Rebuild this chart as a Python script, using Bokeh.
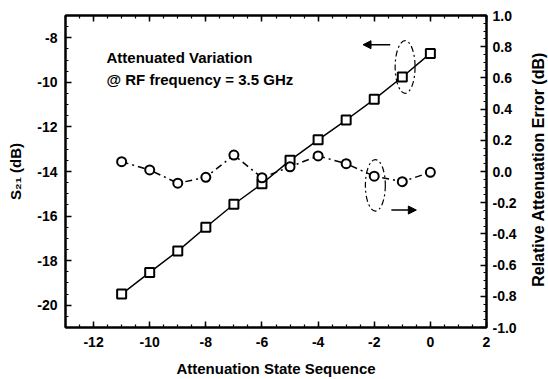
import math
from bokeh.plotting import figure
from bokeh.layouts import row
from bokeh.models import (Range1d, LinearAxis, SingleIntervalTicker, Arrow, NormalHead,
                          NumeralTickFormatter, Label)
from bokeh.embed import file_html
from bokeh.resources import INLINE
from bokeh.core.properties import value

# ---- data ----
state = [-11, -10, -9, -8, -7, -6, -5, -4, -3, -2, -1, 0]
s21_db = [-19.5, -18.53, -17.57, -16.5, -15.47, -14.55, -13.5, -12.58, -11.69, -10.76, -9.76, -8.7]
rel_err_db = [0.063, 0.01, -0.075, -0.037, 0.105, -0.04, 0.03, 0.1, 0.05, -0.03, -0.065, -0.005]

x_label = "Attenuation State Sequence"
left_label = "S\u2082\u2081 (dB)"
right_label = "Relative Attenuation Error (dB)"
note_lines = ["Attenuated Variation", "@ RF frequency = 3.5 GHz"]
note_x = [-11.54, -11.54]
note_y = [-8.89, -9.87]

# annotation shapes (data coords of left axis)
ell_x = [-0.90, -1.96]
ell_y = [-9.31, -14.62]
ell_w = 0.71
ell_h = [2.36, 2.31]
arrow_up = (-1.43, -2.40, -8.31)   # x_start, x_end, y
arrow_dn = (-1.39, -0.50, -15.73)

FONT = "Liberation Sans"
W, H, STRIP = 548, 379, 18

p = figure(width=W - STRIP, height=H, x_range=Range1d(-13, 2), y_range=Range1d(-21, -7),
           output_backend="svg", toolbar_location=None,
           x_axis_location=None, y_axis_location=None,
           min_border_left=65, min_border_right=62 - STRIP, min_border_top=15, min_border_bottom=50)
p.extra_y_ranges = {"err": Range1d(-1, 1)}
p.xgrid.grid_line_color = None
p.ygrid.grid_line_color = None
p.outline_line_color = "black"
p.outline_line_width = 2
p.background_fill_color = "white"
p.border_fill_color = "white"


def style(ax, label_size="15px"):
    ax.axis_line_width = 2
    ax.axis_line_color = "black"
    ax.major_tick_in = 6
    ax.major_tick_out = 0
    ax.minor_tick_in = 3
    ax.minor_tick_out = 0
    ax.major_tick_line_width = 1.5
    ax.minor_tick_line_width = 1.2
    ax.major_tick_line_color = "black"
    ax.minor_tick_line_color = "black"
    ax.major_label_text_font = FONT
    ax.major_label_text_font_style = "bold"
    ax.major_label_text_font_size = "14px"
    ax.major_label_text_color = "black"
    ax.axis_label_text_font = FONT
    ax.axis_label_text_font_style = "bold"
    ax.axis_label_text_font_size = label_size
    ax.axis_label_text_color = "black"


bottom = LinearAxis(ticker=SingleIntervalTicker(interval=2, num_minor_ticks=4), axis_label=x_label,
                    formatter=NumeralTickFormatter(format="0"))
style(bottom)
bottom.major_label_standoff = 9
bottom.axis_label_standoff = 10
p.add_layout(bottom, "below")

top = LinearAxis(ticker=SingleIntervalTicker(interval=2, num_minor_ticks=4))
style(top)
top.major_label_text_font_size = "1px"
top.major_label_text_color = None
top.major_label_standoff = 0
p.add_layout(top, "above")

left = LinearAxis(ticker=SingleIntervalTicker(interval=2, num_minor_ticks=4), axis_label=left_label,
                  formatter=NumeralTickFormatter(format="0"))
style(left)
left.major_label_standoff = 8
left.axis_label_standoff = 10
p.add_layout(left, "left")

right = LinearAxis(y_range_name="err", ticker=SingleIntervalTicker(interval=0.2, num_minor_ticks=4),
                   formatter=NumeralTickFormatter(format="0.0"))
style(right)
right.major_label_standoff = 6
p.add_layout(right, "right")

# S21 series
p.line(state, s21_db, line_color="black", line_width=1.5)
p.scatter(state, s21_db, marker="square", size=9, fill_color="white", line_color="black", line_width=2)

# error series
p.line(state, rel_err_db, y_range_name="err", line_color="black", line_width=1.5, line_dash="7 4 2 4")
p.scatter(state, rel_err_db, y_range_name="err", marker="circle", size=9,
          fill_color="white", line_color="black", line_width=2)

# annotations
p.ellipse(x=ell_x, y=ell_y, width=ell_w, height=ell_h, fill_color=None,
          line_color="black", line_width=1.2, line_dash="6 3 2 3")
for xs, xe, yy in (arrow_up, arrow_dn):
    p.add_layout(Arrow(end=NormalHead(size=8, fill_color="black", line_color="black"),
                       x_start=xs, y_start=yy, x_end=xe, y_end=yy,
                       line_color="black", line_width=1.5))

p.text(x=note_x, y=note_y, text=note_lines, text_font=value(FONT), text_font_style="bold",
       text_font_size="15px", text_baseline="middle", text_align="left", text_color="black")

# narrow strip carrying the right-hand axis title (reads bottom to top)
q = figure(width=STRIP, height=H, x_range=Range1d(0, 1), y_range=Range1d(0, H),
           output_backend="svg", toolbar_location=None,
           x_axis_location=None, y_axis_location=None,
           min_border_left=0, min_border_right=0, min_border_top=0, min_border_bottom=0)
q.xgrid.grid_line_color = None
q.ygrid.grid_line_color = None
q.outline_line_color = None
q.background_fill_color = "white"
q.border_fill_color = "white"
q.add_layout(Label(x=0.45, y=H - 187, text=right_label, angle=math.pi / 2,
                   text_align="center", text_baseline="middle", text_font=FONT,
                   text_font_style="bold", text_font_size="16px", text_color="black"))

layout = row(p, q)
open("out.html", "w").write(file_html(layout, INLINE))
